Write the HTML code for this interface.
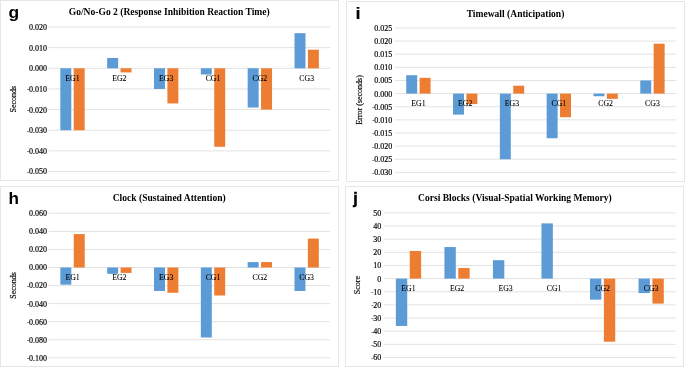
<!DOCTYPE html>
<html><head><meta charset="utf-8"><style>
html,body{margin:0;padding:0;background:#fff;}
body{width:685px;height:367px;overflow:hidden;}
svg{display:block;}
.tk{font-family:"Liberation Serif",serif;font-size:8px;stroke:#000;stroke-width:0.18px;text-anchor:end;fill:#000;}
.cat{font-family:"Liberation Serif",serif;font-size:7.8px;stroke:#000;stroke-width:0.08px;text-anchor:middle;fill:#000;}
.ttl{font-family:"Liberation Serif",serif;font-size:9.55px;font-weight:bold;text-anchor:middle;fill:#000;}
.lbl{font-family:"Liberation Sans",sans-serif;font-size:16px;font-weight:bold;fill:#000;}
.yt{font-family:"Liberation Serif",serif;font-size:8px;stroke:#000;stroke-width:0.18px;text-anchor:middle;fill:#000;}
</style></head><body>
<svg width="685" height="367" viewBox="0 0 685 367">
<defs><filter id="sb" x="-5%" y="-20%" width="110%" height="140%"><feGaussianBlur stdDeviation="0.42"/></filter></defs>
<rect width="685" height="367" fill="#fff"/>
<g filter="url(#sb)">
<rect x="0.5" y="0.5" width="338" height="180" fill="none" stroke="#E6E6E6" stroke-width="1"/>
<line x1="48.5" y1="27.00" x2="330.3" y2="27.00" stroke="#E2E2E2" stroke-width="1"/>
<line x1="48.5" y1="47.65" x2="330.3" y2="47.65" stroke="#E2E2E2" stroke-width="1"/>
<line x1="48.5" y1="68.30" x2="330.3" y2="68.30" stroke="#E2E2E2" stroke-width="1"/>
<line x1="48.5" y1="88.95" x2="330.3" y2="88.95" stroke="#E2E2E2" stroke-width="1"/>
<line x1="48.5" y1="109.60" x2="330.3" y2="109.60" stroke="#E2E2E2" stroke-width="1"/>
<line x1="48.5" y1="130.25" x2="330.3" y2="130.25" stroke="#E2E2E2" stroke-width="1"/>
<line x1="48.5" y1="150.90" x2="330.3" y2="150.90" stroke="#E2E2E2" stroke-width="1"/>
<line x1="48.5" y1="171.55" x2="330.3" y2="171.55" stroke="#E2E2E2" stroke-width="1"/>
<text x="46.9" y="29.90" class="tk">0.020</text>
<text x="46.9" y="50.55" class="tk">0.010</text>
<text x="46.9" y="71.20" class="tk">0.000</text>
<text x="46.9" y="91.85" class="tk"><tspan style="font-size:6.5px;letter-spacing:-0.2px" dy="-0.5">-</tspan><tspan dy="0.5">0.010</tspan></text>
<text x="46.9" y="112.50" class="tk"><tspan style="font-size:6.5px;letter-spacing:-0.2px" dy="-0.5">-</tspan><tspan dy="0.5">0.020</tspan></text>
<text x="46.9" y="133.15" class="tk"><tspan style="font-size:6.5px;letter-spacing:-0.2px" dy="-0.5">-</tspan><tspan dy="0.5">0.030</tspan></text>
<text x="46.9" y="153.80" class="tk"><tspan style="font-size:6.5px;letter-spacing:-0.2px" dy="-0.5">-</tspan><tspan dy="0.5">0.040</tspan></text>
<text x="46.9" y="174.45" class="tk"><tspan style="font-size:6.5px;letter-spacing:-0.2px" dy="-0.5">-</tspan><tspan dy="0.5">0.050</tspan></text>
<rect x="60.32" y="68.30" width="10.96" height="61.95" fill="#5B9BD5"/>
<rect x="73.72" y="68.30" width="10.96" height="61.95" fill="#ED7D31"/>
<rect x="107.16" y="57.97" width="10.96" height="10.33" fill="#5B9BD5"/>
<rect x="120.56" y="68.30" width="10.96" height="4.13" fill="#ED7D31"/>
<rect x="154.00" y="68.30" width="10.96" height="20.65" fill="#5B9BD5"/>
<rect x="167.40" y="68.30" width="10.96" height="35.11" fill="#ED7D31"/>
<rect x="200.84" y="68.30" width="10.96" height="6.19" fill="#5B9BD5"/>
<rect x="214.24" y="68.30" width="10.96" height="78.47" fill="#ED7D31"/>
<rect x="247.68" y="68.30" width="10.96" height="39.23" fill="#5B9BD5"/>
<rect x="261.08" y="68.30" width="10.96" height="41.30" fill="#ED7D31"/>
<rect x="294.52" y="33.19" width="10.96" height="35.11" fill="#5B9BD5"/>
<rect x="307.92" y="49.72" width="10.96" height="18.58" fill="#ED7D31"/>
<text x="72.50" y="80.60" class="cat">EG1</text>
<text x="119.34" y="80.60" class="cat">EG2</text>
<text x="166.18" y="80.60" class="cat">EG3</text>
<text x="213.02" y="80.60" class="cat">CG1</text>
<text x="259.86" y="80.60" class="cat">CG2</text>
<text x="306.70" y="80.60" class="cat">CG3</text>
<text x="169.25" y="14.6" class="ttl">Go/No-Go 2 (Response Inhibition Reaction Time)</text>
<text transform="translate(8.4,18.3) scale(1.04,1)" x="0" y="0" class="lbl" style="font-size:16.8px;stroke:#000;stroke-width:0px">g</text>
<text transform="translate(16.4,99.2) rotate(-90)" x="0" y="0" class="yt">Seconds</text>
<rect x="346.5" y="1.5" width="338" height="180" fill="none" stroke="#E6E6E6" stroke-width="1"/>
<line x1="394.9" y1="27.95" x2="676.3" y2="27.95" stroke="#E2E2E2" stroke-width="1"/>
<line x1="394.9" y1="41.08" x2="676.3" y2="41.08" stroke="#E2E2E2" stroke-width="1"/>
<line x1="394.9" y1="54.21" x2="676.3" y2="54.21" stroke="#E2E2E2" stroke-width="1"/>
<line x1="394.9" y1="67.34" x2="676.3" y2="67.34" stroke="#E2E2E2" stroke-width="1"/>
<line x1="394.9" y1="80.47" x2="676.3" y2="80.47" stroke="#E2E2E2" stroke-width="1"/>
<line x1="394.9" y1="93.60" x2="676.3" y2="93.60" stroke="#E2E2E2" stroke-width="1"/>
<line x1="394.9" y1="106.73" x2="676.3" y2="106.73" stroke="#E2E2E2" stroke-width="1"/>
<line x1="394.9" y1="119.86" x2="676.3" y2="119.86" stroke="#E2E2E2" stroke-width="1"/>
<line x1="394.9" y1="132.99" x2="676.3" y2="132.99" stroke="#E2E2E2" stroke-width="1"/>
<line x1="394.9" y1="146.12" x2="676.3" y2="146.12" stroke="#E2E2E2" stroke-width="1"/>
<line x1="394.9" y1="159.25" x2="676.3" y2="159.25" stroke="#E2E2E2" stroke-width="1"/>
<line x1="394.9" y1="172.38" x2="676.3" y2="172.38" stroke="#E2E2E2" stroke-width="1"/>
<text x="392.2" y="30.85" class="tk">0.025</text>
<text x="392.2" y="43.98" class="tk">0.020</text>
<text x="392.2" y="57.11" class="tk">0.015</text>
<text x="392.2" y="70.24" class="tk">0.010</text>
<text x="392.2" y="83.37" class="tk">0.005</text>
<text x="392.2" y="96.50" class="tk">0.000</text>
<text x="392.2" y="109.63" class="tk"><tspan style="font-size:6.5px;letter-spacing:-0.2px" dy="-0.5">-</tspan><tspan dy="0.5">0.005</tspan></text>
<text x="392.2" y="122.76" class="tk"><tspan style="font-size:6.5px;letter-spacing:-0.2px" dy="-0.5">-</tspan><tspan dy="0.5">0.010</tspan></text>
<text x="392.2" y="135.89" class="tk"><tspan style="font-size:6.5px;letter-spacing:-0.2px" dy="-0.5">-</tspan><tspan dy="0.5">0.015</tspan></text>
<text x="392.2" y="149.02" class="tk"><tspan style="font-size:6.5px;letter-spacing:-0.2px" dy="-0.5">-</tspan><tspan dy="0.5">0.020</tspan></text>
<text x="392.2" y="162.15" class="tk"><tspan style="font-size:6.5px;letter-spacing:-0.2px" dy="-0.5">-</tspan><tspan dy="0.5">0.025</tspan></text>
<text x="392.2" y="175.28" class="tk"><tspan style="font-size:6.5px;letter-spacing:-0.2px" dy="-0.5">-</tspan><tspan dy="0.5">0.030</tspan></text>
<rect x="406.23" y="75.22" width="10.95" height="18.38" fill="#5B9BD5"/>
<rect x="419.62" y="77.84" width="10.95" height="15.76" fill="#ED7D31"/>
<rect x="453.04" y="93.60" width="10.95" height="21.01" fill="#5B9BD5"/>
<rect x="466.43" y="93.60" width="10.95" height="10.50" fill="#ED7D31"/>
<rect x="499.85" y="93.60" width="10.95" height="65.65" fill="#5B9BD5"/>
<rect x="513.24" y="85.72" width="10.95" height="7.88" fill="#ED7D31"/>
<rect x="546.66" y="93.60" width="10.95" height="44.64" fill="#5B9BD5"/>
<rect x="560.05" y="93.60" width="10.95" height="23.63" fill="#ED7D31"/>
<rect x="593.47" y="93.60" width="10.95" height="2.63" fill="#5B9BD5"/>
<rect x="606.86" y="93.60" width="10.95" height="5.25" fill="#ED7D31"/>
<rect x="640.28" y="80.47" width="10.95" height="13.13" fill="#5B9BD5"/>
<rect x="653.67" y="43.71" width="10.95" height="49.89" fill="#ED7D31"/>
<text x="418.40" y="105.90" class="cat">EG1</text>
<text x="465.22" y="105.90" class="cat">EG2</text>
<text x="512.02" y="105.90" class="cat">EG3</text>
<text x="558.84" y="105.90" class="cat">CG1</text>
<text x="605.64" y="105.90" class="cat">CG2</text>
<text x="652.46" y="105.90" class="cat">CG3</text>
<text x="515.5" y="16.8" class="ttl">Timewall (Anticipation)</text>
<text transform="translate(355.2,18.9) scale(1.25,1)" x="0" y="0" class="lbl" style="font-size:16px;stroke:#000;stroke-width:0px">i</text>
<text transform="translate(362.3,99.9) rotate(-90)" x="0" y="0" class="yt">Error (seconds)</text>
<rect x="0.5" y="186.5" width="338" height="180" fill="none" stroke="#E6E6E6" stroke-width="1"/>
<line x1="48.6" y1="213.32" x2="330.1" y2="213.32" stroke="#E2E2E2" stroke-width="1"/>
<line x1="48.6" y1="231.38" x2="330.1" y2="231.38" stroke="#E2E2E2" stroke-width="1"/>
<line x1="48.6" y1="249.44" x2="330.1" y2="249.44" stroke="#E2E2E2" stroke-width="1"/>
<line x1="48.6" y1="267.50" x2="330.1" y2="267.50" stroke="#E2E2E2" stroke-width="1"/>
<line x1="48.6" y1="285.56" x2="330.1" y2="285.56" stroke="#E2E2E2" stroke-width="1"/>
<line x1="48.6" y1="303.62" x2="330.1" y2="303.62" stroke="#E2E2E2" stroke-width="1"/>
<line x1="48.6" y1="321.68" x2="330.1" y2="321.68" stroke="#E2E2E2" stroke-width="1"/>
<line x1="48.6" y1="339.74" x2="330.1" y2="339.74" stroke="#E2E2E2" stroke-width="1"/>
<line x1="48.6" y1="357.80" x2="330.1" y2="357.80" stroke="#E2E2E2" stroke-width="1"/>
<text x="47.0" y="216.22" class="tk">0.060</text>
<text x="47.0" y="234.28" class="tk">0.040</text>
<text x="47.0" y="252.34" class="tk">0.020</text>
<text x="47.0" y="270.40" class="tk">0.000</text>
<text x="47.0" y="288.46" class="tk"><tspan style="font-size:6.5px;letter-spacing:-0.2px" dy="-0.5">-</tspan><tspan dy="0.5">0.020</tspan></text>
<text x="47.0" y="306.52" class="tk"><tspan style="font-size:6.5px;letter-spacing:-0.2px" dy="-0.5">-</tspan><tspan dy="0.5">0.040</tspan></text>
<text x="47.0" y="324.58" class="tk"><tspan style="font-size:6.5px;letter-spacing:-0.2px" dy="-0.5">-</tspan><tspan dy="0.5">0.060</tspan></text>
<text x="47.0" y="342.64" class="tk"><tspan style="font-size:6.5px;letter-spacing:-0.2px" dy="-0.5">-</tspan><tspan dy="0.5">0.080</tspan></text>
<text x="47.0" y="360.70" class="tk"><tspan style="font-size:6.5px;letter-spacing:-0.2px" dy="-0.5">-</tspan><tspan dy="0.5">0.100</tspan></text>
<rect x="60.38" y="267.50" width="10.96" height="17.16" fill="#5B9BD5"/>
<rect x="73.77" y="234.09" width="10.96" height="33.41" fill="#ED7D31"/>
<rect x="107.20" y="267.50" width="10.96" height="6.32" fill="#5B9BD5"/>
<rect x="120.59" y="267.50" width="10.96" height="5.42" fill="#ED7D31"/>
<rect x="154.02" y="267.50" width="10.96" height="23.48" fill="#5B9BD5"/>
<rect x="167.41" y="267.50" width="10.96" height="25.28" fill="#ED7D31"/>
<rect x="200.84" y="267.50" width="10.96" height="69.98" fill="#5B9BD5"/>
<rect x="214.23" y="267.50" width="10.96" height="27.99" fill="#ED7D31"/>
<rect x="247.66" y="262.08" width="10.96" height="5.42" fill="#5B9BD5"/>
<rect x="261.05" y="262.08" width="10.96" height="5.42" fill="#ED7D31"/>
<rect x="294.48" y="267.50" width="10.96" height="23.48" fill="#5B9BD5"/>
<rect x="307.87" y="238.60" width="10.96" height="28.90" fill="#ED7D31"/>
<text x="72.55" y="279.80" class="cat">EG1</text>
<text x="119.37" y="279.80" class="cat">EG2</text>
<text x="166.19" y="279.80" class="cat">EG3</text>
<text x="213.01" y="279.80" class="cat">CG1</text>
<text x="259.83" y="279.80" class="cat">CG2</text>
<text x="306.65" y="279.80" class="cat">CG3</text>
<text x="169.2" y="201.3" class="ttl">Clock (Sustained Attention)</text>
<text transform="translate(8.5,204.3) scale(1.07,1)" x="0" y="0" class="lbl" style="font-size:16px;stroke:#000;stroke-width:0px">h</text>
<text transform="translate(16.2,285.45) rotate(-90)" x="0" y="0" class="yt">Seconds</text>
<rect x="345.5" y="186.5" width="338" height="180" fill="none" stroke="#E6E6E6" stroke-width="1"/>
<line x1="383.9" y1="212.85" x2="675.6" y2="212.85" stroke="#E2E2E2" stroke-width="1"/>
<line x1="383.9" y1="226.00" x2="675.6" y2="226.00" stroke="#E2E2E2" stroke-width="1"/>
<line x1="383.9" y1="239.15" x2="675.6" y2="239.15" stroke="#E2E2E2" stroke-width="1"/>
<line x1="383.9" y1="252.30" x2="675.6" y2="252.30" stroke="#E2E2E2" stroke-width="1"/>
<line x1="383.9" y1="265.45" x2="675.6" y2="265.45" stroke="#E2E2E2" stroke-width="1"/>
<line x1="383.9" y1="278.60" x2="675.6" y2="278.60" stroke="#E2E2E2" stroke-width="1"/>
<line x1="383.9" y1="291.75" x2="675.6" y2="291.75" stroke="#E2E2E2" stroke-width="1"/>
<line x1="383.9" y1="304.90" x2="675.6" y2="304.90" stroke="#E2E2E2" stroke-width="1"/>
<line x1="383.9" y1="318.05" x2="675.6" y2="318.05" stroke="#E2E2E2" stroke-width="1"/>
<line x1="383.9" y1="331.20" x2="675.6" y2="331.20" stroke="#E2E2E2" stroke-width="1"/>
<line x1="383.9" y1="344.35" x2="675.6" y2="344.35" stroke="#E2E2E2" stroke-width="1"/>
<line x1="383.9" y1="357.50" x2="675.6" y2="357.50" stroke="#E2E2E2" stroke-width="1"/>
<text x="381.2" y="215.75" class="tk">50</text>
<text x="381.2" y="228.90" class="tk">40</text>
<text x="381.2" y="242.05" class="tk">30</text>
<text x="381.2" y="255.20" class="tk">20</text>
<text x="381.2" y="268.35" class="tk">10</text>
<text x="381.2" y="281.50" class="tk">0</text>
<text x="381.2" y="294.65" class="tk"><tspan style="font-size:6.5px;letter-spacing:-0.2px" dy="-0.5">-</tspan><tspan dy="0.5">10</tspan></text>
<text x="381.2" y="307.80" class="tk"><tspan style="font-size:6.5px;letter-spacing:-0.2px" dy="-0.5">-</tspan><tspan dy="0.5">20</tspan></text>
<text x="381.2" y="320.95" class="tk"><tspan style="font-size:6.5px;letter-spacing:-0.2px" dy="-0.5">-</tspan><tspan dy="0.5">30</tspan></text>
<text x="381.2" y="334.10" class="tk"><tspan style="font-size:6.5px;letter-spacing:-0.2px" dy="-0.5">-</tspan><tspan dy="0.5">40</tspan></text>
<text x="381.2" y="347.25" class="tk"><tspan style="font-size:6.5px;letter-spacing:-0.2px" dy="-0.5">-</tspan><tspan dy="0.5">50</tspan></text>
<text x="381.2" y="360.40" class="tk"><tspan style="font-size:6.5px;letter-spacing:-0.2px" dy="-0.5">-</tspan><tspan dy="0.5">60</tspan></text>
<rect x="395.88" y="278.60" width="11.36" height="47.34" fill="#5B9BD5"/>
<rect x="409.76" y="250.99" width="11.36" height="27.62" fill="#ED7D31"/>
<rect x="444.41" y="247.04" width="11.36" height="31.56" fill="#5B9BD5"/>
<rect x="458.29" y="268.08" width="11.36" height="10.52" fill="#ED7D31"/>
<rect x="492.94" y="260.19" width="11.36" height="18.41" fill="#5B9BD5"/>
<rect x="541.47" y="223.37" width="11.36" height="55.23" fill="#5B9BD5"/>
<rect x="590.00" y="278.60" width="11.36" height="21.04" fill="#5B9BD5"/>
<rect x="603.88" y="278.60" width="11.36" height="63.12" fill="#ED7D31"/>
<rect x="638.53" y="278.60" width="11.36" height="14.46" fill="#5B9BD5"/>
<rect x="652.41" y="278.60" width="11.36" height="24.99" fill="#ED7D31"/>
<text x="408.50" y="290.90" class="cat">EG1</text>
<text x="457.03" y="290.90" class="cat">EG2</text>
<text x="505.56" y="290.90" class="cat">EG3</text>
<text x="554.09" y="290.90" class="cat">CG1</text>
<text x="602.62" y="290.90" class="cat">CG2</text>
<text x="651.14" y="290.90" class="cat">CG3</text>
<text x="514.9" y="201.3" class="ttl">Corsi Blocks (Visual-Spatial Working Memory)</text>
<text transform="translate(353.2,203.8) scale(1,1)" x="0" y="0" class="lbl" style="font-size:16px;stroke:#000;stroke-width:0.5px">j</text>
<text transform="translate(360.0,285.1) rotate(-90)" x="0" y="0" class="yt">Score</text>
</g>
</svg>
</body></html>
